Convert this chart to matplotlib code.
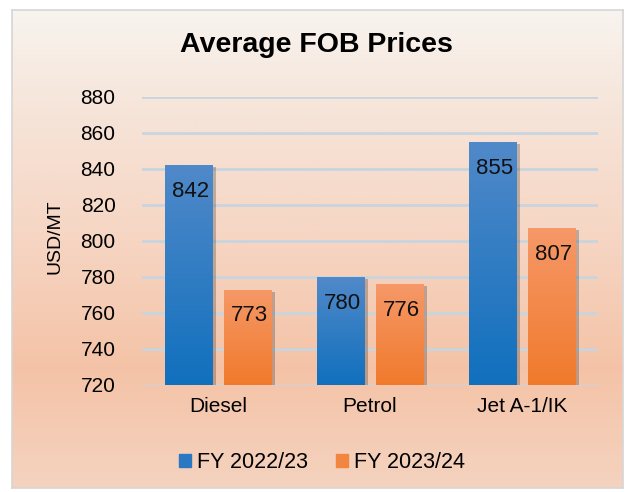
import numpy as np
import matplotlib
matplotlib.use('Agg')
import matplotlib.pyplot as plt
from matplotlib.colors import LinearSegmentedColormap
from matplotlib.patches import Rectangle
import matplotlib.patheffects as pe

plt.rcParams['font.family'] = ['Liberation Sans', 'DejaVu Sans']

categories = ['Diesel', 'Petrol', 'Jet A-1/IK']
fy2223 = [842, 780, 855]
fy2324 = [773, 776, 807]
series_names = ['FY 2022/23', 'FY 2023/24']
yticks = [720, 740, 760, 780, 800, 820, 840, 860, 880]

W, H = 626, 492
fig = plt.figure(figsize=(W / 100, H / 100), dpi=100)
fig.patch.set_facecolor('white')

# background panel with gradient
bg = fig.add_axes([12 / W, 1 - 488 / H, (623 - 12) / W, (488 - 10) / H])
bgcm = LinearSegmentedColormap.from_list(
    'bg', [(0, '#f8f4ef'), (0.2, '#f6e5da'), (0.5, '#f6d4c1'), (0.75, '#f4c3a7'), (1, '#f5d3bf')])
bg.imshow(np.linspace(0, 1, 256)[:, None], aspect='auto', cmap=bgcm,
          extent=[0, 1, 0, 1], origin='upper')
bg.set_xticks([]); bg.set_yticks([])
for s in bg.spines.values():
    s.set_color('#d6d6d6'); s.set_linewidth(1.2)

ax = fig.add_axes([142 / W, 1 - 385 / H, (598 - 142) / W, (385 - 97) / H])
ax.patch.set_alpha(0)
ax.set_axisbelow(True)
ax.yaxis.grid(True, color='#c8d5de', lw=2)
for s in ax.spines.values():
    s.set_visible(False)

x = np.arange(len(categories))
w = 0.315
off = 0.194
blue_cm = LinearSegmentedColormap.from_list('b', ['#5089c9', '#1170bd'])
orng_cm = LinearSegmentedColormap.from_list('o', ['#f69868', '#f07a2c'])
base = yticks[0]

for vals, sgn, cm, col, name in [(fy2223, -1, blue_cm, '#2a78c2', series_names[0]),
                                  (fy2324, 1, orng_cm, '#f28540', series_names[1])]:
    bars = ax.bar(x + sgn * off, np.array(vals) - base, w, bottom=base, color=col,
                  zorder=2, label=name,
                  path_effects=[pe.SimplePatchShadow(offset=(2.5, -1.5), shadow_rgbFace='k', alpha=0.22),
                                pe.Normal()])
    for b, v in zip(bars, vals):
        x0 = b.get_x()
        im = ax.imshow(np.linspace(0, 1, 100)[:, None], cmap=cm, aspect='auto',
                       extent=[x0, x0 + b.get_width(), base, v], origin='upper', zorder=3)
        im.set_clip_path(b)
        ax.annotate(str(v), (x0 + b.get_width() / 2, v), xytext=(1.5, -19),
                    textcoords='offset points', ha='center', va='center',
                    fontsize=16, color='#111111', zorder=4)

ax.set_xlim(-0.5, 2.5)
ax.set_ylim(720, 880)
ax.set_yticks(yticks)
ax.set_yticklabels([str(t) for t in yticks], fontsize=15)
ax.set_xticks(x)
ax.set_xticklabels(categories, fontsize=15)
ax.tick_params(axis='y', length=0, pad=19)
ax.tick_params(axis='x', length=0, pad=9)
ax.set_aspect('auto')

fig.text(316 / W, 1 - 45 / H, 'Average FOB Prices', fontsize=20.5, weight='bold',
         ha='center', va='center')
fig.text(55 / W, 1 - 237 / H, 'USD/MT', rotation=90, fontsize=14,
         ha='center', va='center')

handles = [Rectangle((0, 0), 1, 1, color='#2a78c2'), Rectangle((0, 0), 1, 1, color='#f28540')]
fig.legend(handles, series_names, loc='center', bbox_to_anchor=(322 / W, 1 - 463 / H),
           ncol=2, frameon=False, fontsize=15.5, handlelength=0.55, handleheight=0.55,
           handletextpad=0.3, columnspacing=1.3)

fig.savefig('out.png', dpi=100)
